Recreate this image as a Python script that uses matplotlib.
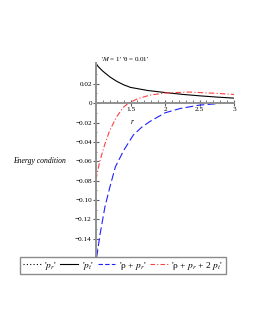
import matplotlib
matplotlib.use("Agg")
import matplotlib.pyplot as plt
from matplotlib.lines import Line2D
from matplotlib.ticker import MultipleLocator, FixedLocator, FuncFormatter

plt.rcParams['font.family'] = ['Liberation Serif', 'DejaVu Serif']
plt.rcParams['mathtext.fontset'] = 'stix'

# data
r_pt = [1.0, 1.05, 1.1, 1.2, 1.3, 1.4, 1.5, 1.75, 2.0, 2.25, 2.5, 2.75, 3.0]
p_t = [0.0405, 0.0365, 0.0330, 0.0272, 0.0226, 0.0190, 0.0163, 0.0131, 0.0110, 0.0091, 0.0076, 0.0063, 0.0052]

r_red = [1.0, 1.03, 1.06, 1.1, 1.13, 1.2, 1.3, 1.4, 1.47, 1.6, 1.78, 2.0, 2.35, 2.7, 3.0]
rho_pr_2pt = [-0.079, -0.068, -0.059, -0.049, -0.042, -0.028, -0.014, -0.004, 0.0, 0.0045, 0.0083, 0.0105, 0.0115, 0.0103, 0.0090]

r_blue = [1.01, 1.06, 1.13, 1.2, 1.28, 1.4, 1.54, 1.66, 1.78, 2.0, 2.22, 2.5, 2.8, 3.0]
rho_pr = [-0.159, -0.135, -0.107, -0.087, -0.066, -0.049, -0.033, -0.025, -0.019, -0.010, -0.0055, -0.002, -0.0003, 0.0002]

x_ticks = [1.5, 2, 2.5, 3]
y_ticks = [0.02, 0, -0.02, -0.04, -0.06, -0.08, -0.10, -0.12, -0.14]

fig = plt.figure(figsize=(2.55, 3.3), dpi=100)
ax = fig.add_axes([96/255, 1 - 257/330, (234-96)/255, (257-63.5)/330])

ax.plot(r_pt, p_t, color='black', lw=0.8)
ax.plot(r_blue, rho_pr, color='#2020ff', lw=0.8, ls=(0, (7, 3)))
ax.plot(r_red, rho_pr_2pt, color='#ff4040', lw=0.8, ls=(0, (5, 2, 1, 2)))

ax.set_xlim(1, 3)
ax.set_ylim(-0.159, 0.041)

for s in ['top', 'right']:
    ax.spines[s].set_visible(False)
ax.spines['bottom'].set_position(('data', 0))
for s in ['left', 'bottom']:
    ax.spines[s].set_color('#909090')
    ax.spines[s].set_linewidth(1.4)

ax.xaxis.set_major_locator(FixedLocator(x_ticks))
ax.xaxis.set_minor_locator(MultipleLocator(0.1))
ax.yaxis.set_major_locator(FixedLocator(y_ticks))
ax.yaxis.set_minor_locator(MultipleLocator(0.01))

def yfmt(v, pos):
    if abs(v) < 1e-9:
        return '0'
    s = '%.2f' % v
    return s.replace('-', '\u2212')

ax.yaxis.set_major_formatter(FuncFormatter(yfmt))
ax.xaxis.set_major_formatter(FuncFormatter(lambda v, p: ('%g' % v)))

ax.tick_params(axis='both', which='major', direction='inout', length=4, width=0.8,
               color='#606060', labelsize=5.2, pad=1)
ax.tick_params(axis='both', which='minor', direction='in', length=2, width=0.6, color='#606060')
ax.tick_params(axis='y', which='minor', direction='inout')

fig.text(125/255, 1 - 59/330, "'$M$ = 1' 'θ = 0.01'", ha='center', va='center', fontsize=5)
fig.text(40/255, 1 - 161/330, "Energy condition", ha='center', va='center', fontsize=5.5, style='italic')
fig.text(132/255, 1 - 122/330, "r", ha='center', va='center', fontsize=5.5, style='italic')

handles = [
    Line2D([], [], color='black', lw=0.8, ls=(0, (1, 2))),
    Line2D([], [], color='black', lw=0.8),
    Line2D([], [], color='#2020ff', lw=0.8, ls=(0, (4, 2))),
    Line2D([], [], color='#ff4040', lw=0.8, ls=(0, (4, 2, 1, 2))),
]
labels = ["'$p_r$'", "'$p_t$'", "'ρ + $p_r$'", "'ρ + $p_r$ + 2 $p_t$'"]
leg = fig.legend(handles, labels, loc='center', bbox_to_anchor=(123/255, 1 - 265.5/330),
                 ncol=4, fontsize=6.8, frameon=True, fancybox=False, handlelength=1.9,
                 handletextpad=0.35, columnspacing=0.4, borderpad=0.3, borderaxespad=0)
leg.get_frame().set_edgecolor('#707070')
leg.get_frame().set_linewidth(1.0)

fig.savefig('out.png', dpi=100)
